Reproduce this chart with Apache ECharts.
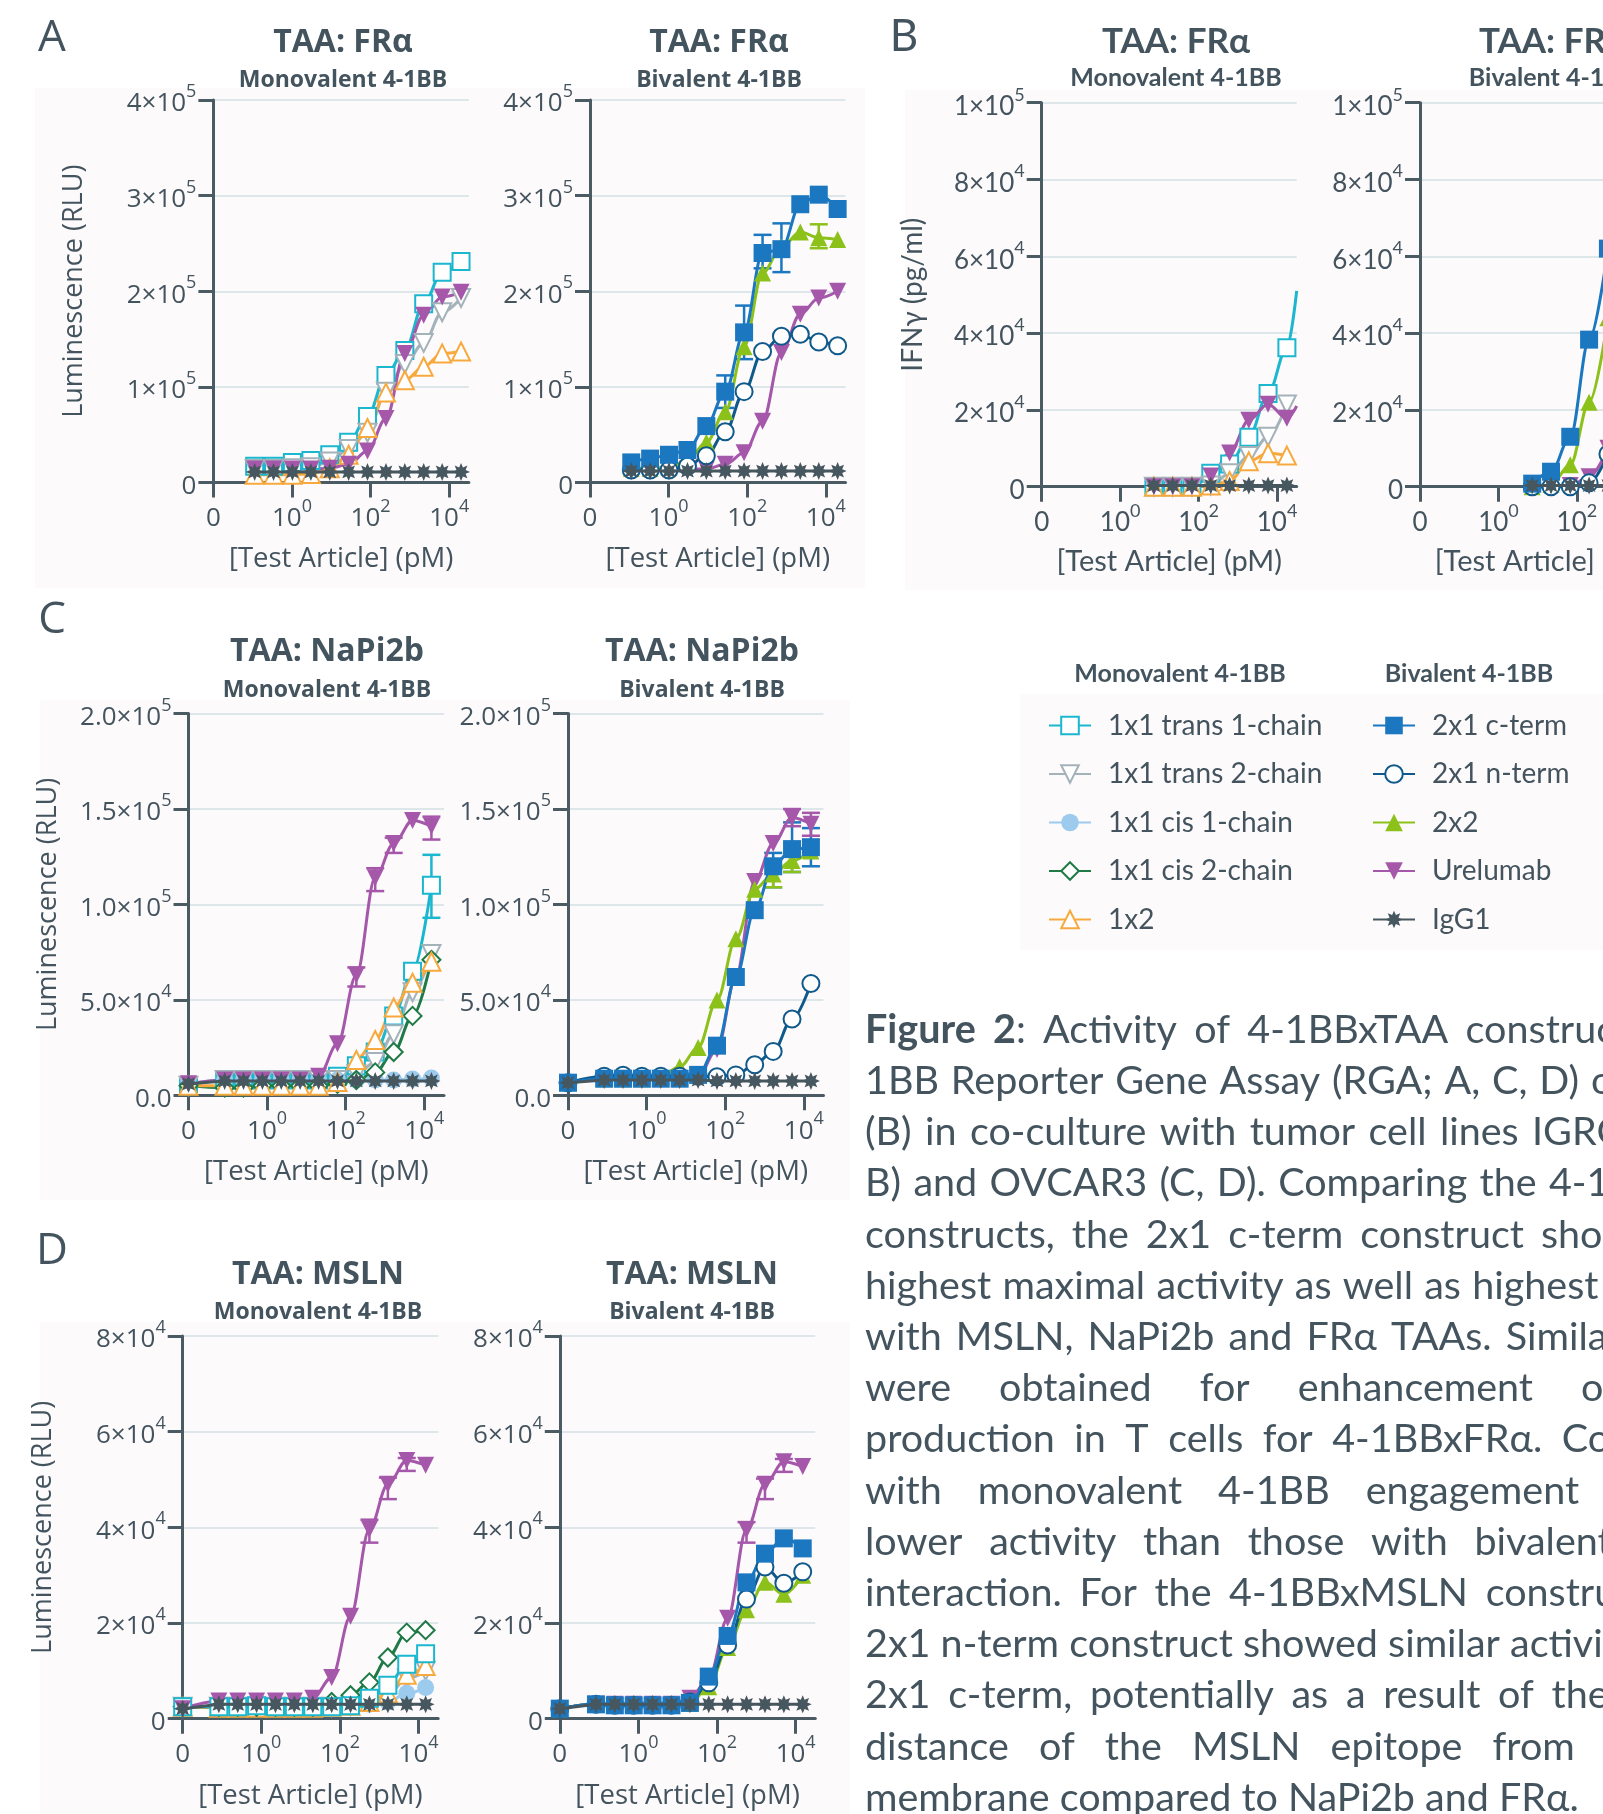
<!DOCTYPE html>
<html>
<head>
<meta charset="utf-8">
<title>Figure 2 - 4-1BBxTAA activity</title>
<script src="https://cdn.jsdelivr.net/npm/echarts@6/dist/echarts.min.js"></script>
<style>
  html, body { margin: 0; padding: 0; background: #ffffff; }
  #chart { width: 1603px; height: 1814px; }
</style>
</head>
<body>
<div id="chart"></div>
<script>
// concentrations as log10(pM); -2 is where the "0" (no antibody) point sits
var xA = [-0.95, -0.47, 0.01, 0.48, 0.96, 1.44, 1.92, 2.39, 2.87, 3.35, 3.82, 4.30];
var xB = [0.86, 1.34, 1.83, 2.31, 2.79, 3.28, 3.77, 4.25];
var xC = [-2, -1.08, -0.6, -0.12, 0.36, 0.84, 1.31, 1.79, 2.27, 2.75, 3.22, 3.7, 4.18];

// tick labels
var xTickPos = [-2, 0, 2, 4];
var xLabels = ['0', '10^0', '10^2', '10^4'];
var yLabelsA = ['0', '1×10^5', '2×10^5', '3×10^5', '4×10^5'];
var yLabelsB = ['0', '2×10^4', '4×10^4', '6×10^4', '8×10^4', '1×10^5'];
var yLabelsC = ['0.0', '5.0×10^4', '1.0×10^5', '1.5×10^5', '2.0×10^5'];
var yLabelsD = ['0', '2×10^4', '4×10^4', '6×10^4', '8×10^4'];

// A: FRa, RGA luminescence
var aMonoTrans1 = [17000, 17000, 21000, 23000, 29000, 42000, 69000, 112000, 138000, 187000, 220000, 231000];
var aMonoTrans2 = [14000, 14000, 15000, 16000, 22000, 35000, 52000, 95000, 124000, 146000, 178000, 193000];
var aMono1x2 = [8000, 8000, 8000, 9000, 15000, 29000, 57000, 94000, 107000, 121000, 135000, 137000];
var aMonoUrel = [14000, 14000, 14000, 14000, 15000, 19000, 33000, 67000, 135000, 175000, 194000, 199000];
var aMonoIgG = [11000, 11000, 11000, 11000, 11000, 11000, 11000, 11000, 11000, 11000, 11000, 11000];

var aBiCterm = [21000, 25000, 29000, 34000, 59000, 95000, 157000, 240000, 244000, 291000, 301000, 286000];
var aBiNterm = [13000, 13000, 13000, 17000, 28000, 53000, 95000, 137000, 153000, 155000, 147000, 143000];
var aBi2x2 = [15000, 15000, 16000, 23000, 42000, 74000, 142000, 219000, 246000, 262000, 256000, 254000];
var aBiUrel = [13000, 13000, 13000, 14000, 14000, 19000, 31000, 64000, 136000, 176000, 193000, 200000];
var aBiIgG = [12000, 12000, 12000, 12000, 12000, 12000, 12000, 12000, 12000, 12000, 12000, 12000];
var aBiCtermErr = [[1.44, 78000, 112000], [1.92, 129000, 185000], [2.39, 224000, 259000], [2.87, 220000, 271000]];
var aBi2x2Err = [[3.82, 245000, 270000]];

// B: FRa, IFNg
var bMonoTrans1 = [0, 0, 0, 3500, 5900, 12900, 24300, 36200];
var bMonoTrans1End = [4.5, 51000];
var bMonoTrans2 = [0, 0, 0, 300, 3500, 8000, 13000, 21400];
var bMono1x2 = [0, 0, 0, 300, 1500, 6600, 8700, 8100];
var bMonoUrel = [0, 0, 0, 2800, 8800, 17300, 21500, 17800];
var bMonoUrelEnd = [4.5, 21000];
var bMonoIgG = [300, 300, 300, 300, 300, 300, 300, 300];

var bBiCterm = [800, 3900, 13000, 38300, 62000];
var bBi2x2 = [0, 600, 5700, 22000, 44000];
var bBiNterm = [0, 0, 0, 1000, 8500];
var bBiUrel = [0, 0, 300, 2600, 10000];
var bBiIgG = [300, 300, 300, 300, 300];

// C: NaPi2b
var cMonoTrans1 = [5000, 8000, 8000, 8000, 8000, 8000, 8000, 10000, 15500, 22700, 41600, 65000, 110000];
var cMonoTrans2 = [5000, 8000, 8000, 8000, 8000, 8000, 8000, 8000, 11000, 17500, 32000, 54000, 74000];
var cMonoCis1 = [6000, 8000, 8000, 8000, 8000, 8000, 8000, 8000, 8000, 8000, 8000, 8500, 9000];
var cMonoCis2 = [5000, 4000, 4000, 5000, 5000, 5000, 5000, 6000, 8000, 12000, 22700, 41600, 71000];
var cMono1x2 = [5000, 5000, 5000, 5000, 5000, 5000, 5000, 7000, 18500, 29000, 46000, 59000, 70000];
var cMonoUrel = [6000, 8000, 8000, 8000, 8000, 8000, 10000, 27000, 63000, 114000, 132000, 144000, 141000];
var cMonoIgG = [6000, 7500, 7500, 7500, 7500, 7500, 7500, 7500, 7500, 7500, 7500, 7500, 7500];
var cMonoUrelErr = [[2.27, 57000, 67000], [2.75, 107000, 119000], [3.22, 127000, 135000], [4.18, 134000, 146000]];
var cMonoTrans1Err = [[4.18, 93000, 126000]];

var cBiCterm = [6600, 8700, 8700, 8700, 8700, 8700, 10700, 26000, 62000, 97000, 120000, 129000, 130000];
var cBiNterm = [6600, 10000, 10500, 10000, 10000, 10000, 10000, 9700, 10700, 16000, 23000, 40000, 58600];
var cBi2x2 = [6600, 8700, 8700, 8700, 10000, 14900, 25000, 50000, 82000, 108000, 116000, 123000, 128000];
var cBiUrel = [6600, 8700, 8700, 8700, 8700, 8700, 10000, 24000, 62000, 112000, 132000, 145500, 142000];
var cBiIgG = [6600, 8000, 8000, 8000, 8000, 8000, 8000, 7500, 7500, 7500, 7500, 7500, 7500];
var cBiCtermErr = [[3.22, 109000, 127000], [3.7, 117000, 143000], [4.18, 120000, 140000]];
var cBiUrelErr = [[3.7, 141000, 150000], [4.18, 136000, 148000]];
var cBi2x2Err = [[3.22, 109000, 121000], [3.7, 117000, 127000]];

// D: MSLN
var dMonoTrans1 = [2500, 2500, 2500, 2700, 2500, 2500, 2500, 2500, 2700, 4300, 7000, 11400, 13600];
var dMonoTrans2 = [2500, 2500, 2500, 2500, 2500, 2500, 2500, 2500, 2700, 3500, 5000, 8400, 10000];
var dMonoCis1 = [2500, 2500, 2500, 2500, 2500, 2500, 2500, 2500, 2700, 3000, 3500, 5300, 6500];
var dMonoCis2 = [2500, 2500, 2500, 2500, 2500, 2500, 2500, 3500, 4900, 7600, 12800, 18000, 18500];
var dMono1x2 = [2500, 2300, 2300, 2300, 2300, 2300, 2300, 2500, 2700, 3500, 5300, 9200, 11000];
var dMonoUrel = [2100, 3700, 3700, 3700, 3700, 3700, 4300, 8600, 21400, 39600, 49000, 54000, 53000];
var dMonoIgG = [2100, 3000, 3000, 3000, 3000, 3000, 3000, 3000, 3000, 3000, 3000, 3000, 3000];
var dMonoUrelErr = [[2.75, 36800, 41600], [3.22, 45900, 50400], [3.7, 51800, 54500]];

var dBiCterm = [2100, 3000, 2800, 2800, 2800, 2800, 3300, 8800, 17300, 28500, 34500, 37700, 35600];
var dBiNterm = [2100, 3000, 2800, 2800, 2800, 2800, 3500, 7500, 15400, 25000, 31700, 28300, 30700];
var dBi2x2 = [2100, 3000, 2800, 2800, 2800, 2800, 3200, 6700, 14900, 22800, 28500, 26000, 30000];
var dBiUrel = [2100, 3000, 3000, 3000, 3000, 3000, 4300, 8400, 21000, 39500, 49000, 53700, 52700];
var dBiIgG = [2100, 3000, 3000, 3000, 3000, 3000, 3000, 3000, 3000, 3000, 3000, 3000, 3000];
var dBiUrelErr = [[2.75, 36800, 41100], [3.22, 45900, 50200], [3.7, 51600, 54300]];

var monoNames = ['1x1 trans 1-chain', '1x1 trans 2-chain', '1x1 cis 1-chain', '1x1 cis 2-chain', '1x2'];
var biNames = ['2x1 c-term', '2x1 n-term', '2x2', 'Urelumab', 'IgG1'];

var captionLines = [
    '*Figure *2 ~: Activity of 4-1BBxTAA constructs in 4-',
    '1BB Reporter Gene Assay (RGA; A, C, D) or T cells',
    '(B) in co-culture with tumor cell lines IGROV-1 (A,',
    'B) and OVCAR3 (C, D). Comparing the 4-1BBxTAA',
    'constructs, the 2x1 c-term construct showed the',
    'highest maximal activity as well as highest potency',
    'with MSLN, NaPi2b and FRα TAAs. Similar results',
    'were obtained for enhancement of IFNγ',
    'production in T cells for 4-1BBxFRα. Constructs',
    'with monovalent 4-1BB engagement showed',
    'lower activity than those with bivalent 4-1BB',
    'interaction. For the 4-1BBxMSLN constructs, the',
    '2x1 n-term construct showed similar activity to the',
    '2x1 c-term, potentially as a result of the greater',
    'distance of the MSLN epitope from the cell',
    'membrane compared to NaPi2b and FRα.'
];

var TEXT = '#44545e';
var AXIS = '#4b5b64';
var GRID = '#dde7ea';
var STAR = 'path://M10 0L12.1 4.92L17.07 2.93L15.08 7.9L20 10L15.08 12.1L17.07 17.07L12.1 15.08L10 20L7.9 15.08L2.93 17.07L4.92 12.1L0 10L4.92 7.9L2.93 2.93L7.9 4.92Z';

var STYLE = {
    '1x1 trans 1-chain': {color: '#1bb7cf', symbol: 'emptyRect', size: 17},
    '1x1 trans 2-chain': {color: '#a4b2b9', symbol: 'emptyTriangle', size: 18, rotate: 180},
    '1x1 cis 1-chain': {color: '#9dcbee', symbol: 'circle', size: 17},
    '1x1 cis 2-chain': {color: '#1e7a46', symbol: 'emptyDiamond', size: 18},
    '1x2': {color: '#f8a93e', symbol: 'emptyTriangle', size: 18},
    '2x1 c-term': {color: '#1b78c0', symbol: 'rect', size: 18},
    '2x1 n-term': {color: '#0f5a8b', symbol: 'emptyCircle', size: 17},
    '2x2': {color: '#8cc11a', symbol: 'triangle', size: 17},
    'Urelumab': {color: '#a557aa', symbol: 'triangle', size: 17, rotate: 180},
    'IgG1': {color: '#47575f', symbol: STAR, size: 18}
};

// plot areas (px)
var panels = [
    {left: 213.4, top: 100, width: 255.5, height: 382.5, yMax: 400000, yStep: 100000, yLabels: yLabelsA, yName: 'Luminescence (RLU)', yNameGap: 126, font: 'Open Sans'},
    {left: 590, top: 100, width: 255.5, height: 382.5, yMax: 400000, yStep: 100000, yLabels: yLabelsA, font: 'Open Sans'},
    {left: 1041.7, top: 102.7, width: 255, height: 384, yMax: 100000, yStep: 20000, yLabels: yLabelsB, yName: 'IFNγ (pg/ml)', yNameGap: 115, font: 'Lato'},
    {left: 1420, top: 102.7, width: 255, height: 384, yMax: 100000, yStep: 20000, yLabels: yLabelsB, font: 'Lato'},
    {left: 188.5, top: 713.6, width: 255.5, height: 381.7, yMax: 200000, yStep: 50000, yLabels: yLabelsC, yName: 'Luminescence (RLU)', yNameGap: 127, font: 'Open Sans'},
    {left: 568, top: 713.6, width: 255.5, height: 381.7, yMax: 200000, yStep: 50000, yLabels: yLabelsC, font: 'Open Sans'},
    {left: 182.7, top: 1336, width: 255.5, height: 382.7, yMax: 80000, yStep: 20000, yLabels: yLabelsD, yName: 'Luminescence (RLU)', yNameGap: 126, font: 'Open Sans'},
    {left: 559.8, top: 1336, width: 255.5, height: 382.7, yMax: 80000, yStep: 20000, yLabels: yLabelsD, font: 'Open Sans'}
];

function richLabel(s) {
    var p = s.split('^');
    return p.length > 1 ? '{b|' + p[0] + '}{s|' + p[1] + '}' : '{b|' + s + '}';
}

function richStyle(font, size) {
    var small = Math.round(size * 0.7);
    return {
        b: {fontFamily: font, fontSize: size, color: TEXT, lineHeight: size + 8, verticalAlign: 'bottom'},
        s: {fontFamily: font, fontSize: small, color: TEXT, lineHeight: small, verticalAlign: 'top'}
    };
}

var grids = [], xAxes = [], yAxes = [];
panels.forEach(function (p, i) {
    var lato = p.font === 'Lato';
    var fs = 26;
    grids.push({left: p.left, top: p.top, width: p.width, height: p.height, containLabel: false, outerBoundsMode: 'none'});
    xAxes.push({
        gridIndex: i, type: 'value', min: -2, max: 4.5, interval: 2,
        axisLine: {show: true, onZero: false, lineStyle: {color: AXIS, width: 3}},
        axisTick: {show: true, customValues: xTickPos, length: 15, lineStyle: {color: AXIS, width: 3}},
        axisLabel: {
            customValues: xTickPos, margin: 15, rich: richStyle(p.font, fs),
            formatter: function (v) {
                var k = xTickPos.indexOf(v);
                return k < 0 ? '' : richLabel(xLabels[k]);
            }
        },
        splitLine: {show: false},
        name: '[Test Article] (pM)', nameLocation: 'middle', nameGap: lato ? 60 : 63, nameMoveOverlap: false,
        nameTextStyle: {fontFamily: p.font, fontSize: lato ? 29 : 27.5, color: TEXT}
    });
    yAxes.push({
        gridIndex: i, type: 'value', min: 0, max: p.yMax, interval: p.yStep,
        axisLine: {show: true, onZero: false, lineStyle: {color: AXIS, width: 3}},
        axisTick: {show: true, length: 15, lineStyle: {color: AXIS, width: 3}},
        axisLabel: {
            margin: 17, rich: richStyle(p.font, fs),
            formatter: function (v) { return richLabel(p.yLabels[Math.round(v / p.yStep)] || ''); }
        },
        splitLine: {show: true, lineStyle: {color: GRID, width: 2}},
        name: p.yName || '', nameLocation: 'middle', nameRotate: 90, nameGap: p.yNameGap || 0,
        nameMoveOverlap: false,
        nameTextStyle: {fontFamily: p.font, fontSize: lato ? 28 : 27, color: TEXT}
    });
});

function line(name, gi, xs, ys, tail) {
    var st = STYLE[name];
    var data = ys.map(function (v, i) { return [xs[i], v]; });
    if (tail) data.push({value: tail, symbol: 'none'});
    return {
        type: 'line', name: name, xAxisIndex: gi, yAxisIndex: gi, data: data,
        smooth: name === 'IgG1' ? false : 0.35, smoothMonotone: 'x', clip: false,
        symbol: st.symbol, symbolSize: st.size, symbolRotate: st.rotate || 0,
        lineStyle: {color: st.color, width: 3},
        itemStyle: {color: st.color, borderColor: st.color, borderWidth: st.symbol.indexOf('empty') === 0 ? 3.5 : 0},
        emphasis: {disabled: true},
        z: name === 'IgG1' ? 4 : 3
    };
}

function errBars(name, gi, rows) {
    var c = STYLE[name].color;
    return {
        type: 'custom', name: name + ' SD', xAxisIndex: gi, yAxisIndex: gi, data: rows, z: 2, clip: false,
        renderItem: function (params, api) {
            var lo = api.coord([api.value(0), api.value(1)]);
            var hi = api.coord([api.value(0), api.value(2)]);
            var w = 9, s = {stroke: c, lineWidth: 2.5};
            return {type: 'group', children: [
                {type: 'line', shape: {x1: lo[0], y1: lo[1], x2: hi[0], y2: hi[1]}, style: s},
                {type: 'line', shape: {x1: lo[0] - w, y1: lo[1], x2: lo[0] + w, y2: lo[1]}, style: s},
                {type: 'line', shape: {x1: hi[0] - w, y1: hi[1], x2: hi[0] + w, y2: hi[1]}, style: s}
            ]};
        }
    };
}

var series = [
    // A mono
    line('1x1 trans 1-chain', 0, xA, aMonoTrans1),
    line('1x1 trans 2-chain', 0, xA, aMonoTrans2),
    line('1x2', 0, xA, aMono1x2),
    line('Urelumab', 0, xA, aMonoUrel),
    line('IgG1', 0, xA, aMonoIgG),
    // A bi
    errBars('2x1 c-term', 1, aBiCtermErr),
    errBars('2x2', 1, aBi2x2Err),
    line('Urelumab', 1, xA, aBiUrel),
    line('2x2', 1, xA, aBi2x2),
    line('2x1 n-term', 1, xA, aBiNterm),
    line('2x1 c-term', 1, xA, aBiCterm),
    line('IgG1', 1, xA, aBiIgG),
    // B mono
    line('1x1 trans 1-chain', 2, xB, bMonoTrans1, bMonoTrans1End),
    line('1x1 trans 2-chain', 2, xB, bMonoTrans2),
    line('1x2', 2, xB, bMono1x2),
    line('Urelumab', 2, xB, bMonoUrel, bMonoUrelEnd),
    line('IgG1', 2, xB, bMonoIgG),
    // B bi
    line('Urelumab', 3, xB, bBiUrel),
    line('2x2', 3, xB, bBi2x2),
    line('2x1 n-term', 3, xB, bBiNterm),
    line('2x1 c-term', 3, xB, bBiCterm),
    line('IgG1', 3, xB, bBiIgG),
    // C mono
    errBars('Urelumab', 4, cMonoUrelErr),
    errBars('1x1 trans 1-chain', 4, cMonoTrans1Err),
    line('1x1 trans 1-chain', 4, xC, cMonoTrans1),
    line('1x1 trans 2-chain', 4, xC, cMonoTrans2),
    line('1x1 cis 1-chain', 4, xC, cMonoCis1),
    line('1x1 cis 2-chain', 4, xC, cMonoCis2),
    line('1x2', 4, xC, cMono1x2),
    line('Urelumab', 4, xC, cMonoUrel),
    line('IgG1', 4, xC, cMonoIgG),
    // C bi
    errBars('2x1 c-term', 5, cBiCtermErr),
    errBars('Urelumab', 5, cBiUrelErr),
    errBars('2x2', 5, cBi2x2Err),
    line('Urelumab', 5, xC, cBiUrel),
    line('2x2', 5, xC, cBi2x2),
    line('2x1 n-term', 5, xC, cBiNterm),
    line('2x1 c-term', 5, xC, cBiCterm),
    line('IgG1', 5, xC, cBiIgG),
    // D mono
    errBars('Urelumab', 6, dMonoUrelErr),
    line('1x1 trans 2-chain', 6, xC, dMonoTrans2),
    line('1x1 cis 1-chain', 6, xC, dMonoCis1),
    line('1x2', 6, xC, dMono1x2),
    line('1x1 cis 2-chain', 6, xC, dMonoCis2),
    line('1x1 trans 1-chain', 6, xC, dMonoTrans1),
    line('Urelumab', 6, xC, dMonoUrel),
    line('IgG1', 6, xC, dMonoIgG),
    // D bi
    errBars('Urelumab', 7, dBiUrelErr),
    line('Urelumab', 7, xC, dBiUrel),
    line('2x2', 7, xC, dBi2x2),
    line('2x1 n-term', 7, xC, dBiNterm),
    line('2x1 c-term', 7, xC, dBiCterm),
    line('IgG1', 7, xC, dBiIgG)
];

// ---- texts drawn with graphic elements ----
var graphics = [];
function txt(x, y, s, font, extra) {
    var g = {type: 'text', x: x, y: y, silent: true,
        style: {text: s, font: font, fill: TEXT, textAlign: 'center', textVerticalAlign: 'middle'}};
    if (extra) for (var k in extra) g.style[k] = extra[k];
    graphics.push(g);
}

// faint panel backgrounds
[[35, 88, 830, 500], [905, 90, 698, 500], [40, 700, 810, 500], [40, 1322, 810, 492], [1020, 694, 583, 256]].forEach(function (r) {
    graphics.push({type: 'rect', z: -10, silent: true, shape: {x: r[0], y: r[1], width: r[2], height: r[3]}, style: {fill: '#fdfafc'}});
});

txt(52, 38, 'A', '44px "Open Sans"');
txt(904, 37, 'B', '44px Lato');
txt(52, 620, 'C', '44px "Open Sans"');
txt(52, 1251, 'D', '44px "Open Sans"');

txt(343, 43, 'TAA: FRα', 'bold 32px "Open Sans"');
txt(343, 80, 'Monovalent 4-1BB', 'bold 23px "Open Sans"');
txt(719, 43, 'TAA: FRα', 'bold 32px "Open Sans"');
txt(719, 80, 'Bivalent 4-1BB', 'bold 23px "Open Sans"');
txt(1176, 42, 'TAA: FRα', 'bold 35px Lato');
txt(1176, 78, 'Monovalent 4-1BB', 'bold 25px Lato');
txt(1553, 42, 'TAA: FRα', 'bold 35px Lato');
txt(1553, 78, 'Bivalent 4-1BB', 'bold 25px Lato');
txt(327, 652, 'TAA: NaPi2b', 'bold 32px "Open Sans"');
txt(327, 690, 'Monovalent 4-1BB', 'bold 23px "Open Sans"');
txt(702, 652, 'TAA: NaPi2b', 'bold 32px "Open Sans"');
txt(702, 690, 'Bivalent 4-1BB', 'bold 23px "Open Sans"');
txt(318, 1275, 'TAA: MSLN', 'bold 32px "Open Sans"');
txt(318, 1312, 'Monovalent 4-1BB', 'bold 23px "Open Sans"');
txt(692, 1275, 'TAA: MSLN', 'bold 32px "Open Sans"');
txt(692, 1312, 'Bivalent 4-1BB', 'bold 23px "Open Sans"');

// legend headings
txt(1180, 674, 'Monovalent 4-1BB', 'bold 25px Lato');
txt(1469, 674, 'Bivalent 4-1BB', 'bold 25px Lato');

// justified caption, cut by the right edge like the poster crop
var CAP_X = 865, CAP_Y = 1030, CAP_STEP = 51.2, CAP_W = 885, CAP_SIZE = 39.5;
var ctx = document.createElement('canvas').getContext('2d');
function capFont(bold) { return (bold ? 'bold ' : '') + CAP_SIZE + 'px Lato'; }
function measure(s, bold) { ctx.font = capFont(bold); return ctx.measureText(s).width; }
captionLines.forEach(function (ln, li) {
    var words = [];
    ln.split(' ').forEach(function (tok) {
        var glue = tok.charAt(0) === '~';
        if (glue) tok = tok.slice(1);
        var bold = tok.charAt(0) === '*';
        if (bold) tok = tok.slice(1);
        var piece = {text: tok, bold: bold, w: measure(tok, bold)};
        if (glue && words.length) words[words.length - 1].parts.push(piece);
        else words.push({parts: [piece]});
    });
    var total = 0;
    words.forEach(function (w) { w.w = 0; w.parts.forEach(function (p) { w.w += p.w; }); total += w.w; });
    var last = li === captionLines.length - 1;
    var gap = last ? measure(' ', false) : Math.max(measure(' ', false), (CAP_W - total) / (words.length - 1));
    var x = CAP_X, y = CAP_Y + li * CAP_STEP;
    words.forEach(function (w) {
        var px = x;
        w.parts.forEach(function (p) {
            txt(px, y, p.text, capFont(p.bold), {textAlign: 'left'});
            px += p.w;
        });
        x += w.w + gap;
    });
});

var legendText = {fontFamily: 'Lato', fontSize: 28, color: TEXT, lineHeight: 29, padding: [0, 0, 0, 12]};
var option = {
    animation: false,
    textStyle: {fontFamily: 'Open Sans', color: TEXT},
    grid: grids,
    xAxis: xAxes,
    yAxis: yAxes,
    legend: [
        {data: monoNames, orient: 'vertical', left: 1043, top: 706, itemWidth: 42, itemHeight: 22, itemGap: 19.5,
            selectedMode: false, textStyle: legendText},
        {data: biNames, orient: 'vertical', left: 1367, top: 706, itemWidth: 42, itemHeight: 22, itemGap: 19.5,
            selectedMode: false, textStyle: legendText}
    ],
    graphic: graphics,
    series: series
};

var chart = echarts.init(document.getElementById('chart'));
chart.setOption(option);
</script>
</body>
</html>
